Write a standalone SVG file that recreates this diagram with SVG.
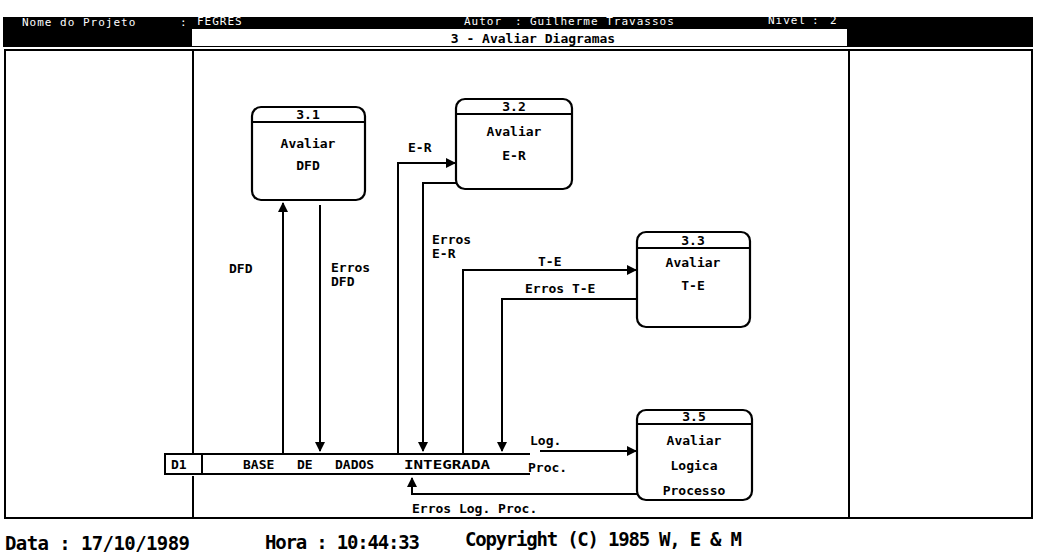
<svg xmlns="http://www.w3.org/2000/svg" width="1039" height="557" viewBox="0 0 1039 557">
<style>
.ln{fill:none;stroke:#000;stroke-width:2}
.box{fill:#fff;stroke:#000;stroke-width:2.2}
.t{font-family:"DejaVu Sans Mono","Liberation Mono",monospace;font-weight:bold;font-size:13px;fill:#000}
.c{text-anchor:middle}
.h{font-family:"DejaVu Sans Mono","Liberation Mono",monospace;font-size:11px;fill:#fff;letter-spacing:1px}
.f{font-family:"DejaVu Sans Mono","Liberation Mono",monospace;font-weight:bold;font-size:19px;fill:#000}
</style>
<defs>
<marker id="ah" viewBox="0 0 10 10" refX="9" refY="5" markerWidth="5" markerHeight="5" orient="auto" markerUnits="strokeWidth">
<path d="M0,0 L10,5 L0,10 Z" fill="#000"/>
</marker>
</defs>
<rect width="1039" height="557" fill="#fff"/>
<g id="header">
<rect x="3" y="17" width="1030" height="30" fill="#000"/>
<rect x="192" y="29" width="655" height="17" fill="#fff"/>
<text class="h" x="22" y="26">Nome do Projeto</text>
<text class="h" x="180" y="26">:</text>
<text class="h" x="197" y="25">FEGRES</text>
<text class="h" x="464" y="25">Autor</text>
<text class="h" x="515" y="25">:</text>
<text class="h" x="530" y="25">Guilherme Travassos</text>
<text class="h" x="768" y="24">Nivel</text>
<text class="h" x="812" y="24">:</text>
<text class="h" x="830" y="24">2</text>
<text class="t c" x="533" y="43">3 -  Avaliar Diagramas</text>
</g>
<g id="frame" class="ln">
<rect x="5" y="50" width="1027" height="468"/>
<path d="M193,50 V453 M193,476 V518 M849,50 V518"/>
</g>
<g id="connectors" class="ln">
<path d="M283,453 V203" marker-end="url(#ah)"/>
<path d="M320,205 V451" marker-end="url(#ah)"/>
<path d="M398,453 V163 H455" marker-end="url(#ah)"/>
<path d="M456,183 H423 V451" marker-end="url(#ah)"/>
<path d="M463,453 V270 H636" marker-end="url(#ah)"/>
<path d="M637,299 H502 V451" marker-end="url(#ah)"/>
<path d="M540,451 H636" marker-end="url(#ah)"/>
<path d="M638,494 H412 V478" marker-end="url(#ah)"/>
</g>
<g id="labels">
<text class="t" x="229" y="273">DFD</text>
<text class="t" x="331" y="272">Erros</text>
<text class="t" x="331" y="286">DFD</text>
<text class="t" x="408" y="152">E-R</text>
<text class="t" x="432" y="244">Erros</text>
<text class="t" x="432" y="258">E-R</text>
<text class="t" x="538" y="266">T-E</text>
<text class="t" x="525" y="293">Erros T-E</text>
<text class="t" x="530" y="445">Log.</text>
<text class="t" x="528" y="472">Proc.</text>
<text class="t" x="412" y="513">Erros Log. Proc.</text>
</g>
<g id="D1">
<path class="ln" d="M530,454 H165 V474 H530 M202,454 V474"/>
<text class="t" x="171" y="469">D1</text>
<text class="t" x="243" y="469">BASE</text>
<text class="t" x="297" y="469">DE</text>
<text class="t" x="335" y="469">DADOS</text>
<text class="t" x="404" y="469" textLength="86" lengthAdjust="spacingAndGlyphs">INTEGRADA</text>
</g>
<g id="p31">
<rect class="box" x="252" y="107" width="113" height="93" rx="9"/>
<line class="ln" x1="252" y1="122" x2="365" y2="122"/>
<text class="t c" x="308" y="119">3.1</text>
<text class="t c" x="308" y="148">Avaliar</text>
<text class="t c" x="308" y="170">DFD</text>
</g>
<g id="p32">
<rect class="box" x="456" y="99" width="116" height="90" rx="9"/>
<line class="ln" x1="456" y1="114" x2="572" y2="114"/>
<text class="t c" x="514" y="111">3.2</text>
<text class="t c" x="514" y="136">Avaliar</text>
<text class="t c" x="514" y="160">E-R</text>
</g>
<g id="p33">
<rect class="box" x="637" y="232" width="113" height="95" rx="9"/>
<line class="ln" x1="637" y1="248" x2="750" y2="248"/>
<text class="t c" x="693" y="245">3.3</text>
<text class="t c" x="693" y="267">Avaliar</text>
<text class="t c" x="693" y="290">T-E</text>
</g>
<g id="p35">
<rect class="box" x="637" y="410" width="115" height="90" rx="9"/>
<line class="ln" x1="637" y1="424" x2="752" y2="424"/>
<text class="t c" x="694" y="421">3.5</text>
<text class="t c" x="694" y="445">Avaliar</text>
<text class="t c" x="694" y="470">Logica</text>
<text class="t c" x="694" y="495">Processo</text>
</g>
<g id="footer">
<text class="f" x="5" y="550" textLength="185">Data : 17/10/1989</text>
<text class="f" x="265" y="549" textLength="155">Hora : 10:44:33</text>
<text class="f" x="465" y="546" textLength="277">Copyright (C) 1985 W, E &amp; M</text>
</g>
</svg>
